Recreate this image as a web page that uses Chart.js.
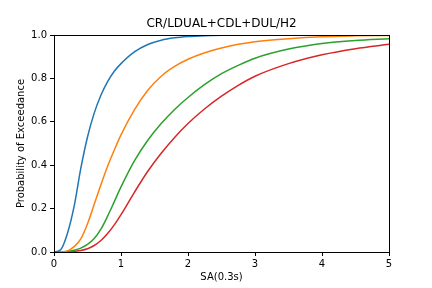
<!DOCTYPE html>
<html>
<head>
<meta charset="utf-8">
<script src="https://cdn.jsdelivr.net/npm/chart.js@4"></script>
<style>
  html, body { margin: 0; padding: 0; background: #fff; }
  #wrap { width: 432px; height: 288px; }
</style>
</head>
<body>
<div id="wrap"><canvas id="chart" width="432" height="288"></canvas></div>
<script>
// SA values (g) where the curves were read
const saValues = [0, 0.1, 0.2, 0.3, 0.4, 0.5, 0.6, 0.7, 0.8, 0.9, 1.0, 1.2, 1.4, 1.6, 1.8, 2.0, 2.25, 2.5, 2.75, 3.0, 3.5, 4.0, 4.5, 5.0]

// probability of exceedance, one array per curve
const curveBlue   = [0, 0.01, 0.085, 0.21, 0.385, 0.53, 0.64, 0.722, 0.785, 0.833, 0.868, 0.922, 0.956, 0.976, 0.987, 0.993, 0.997, 0.999, 1.0, 1.0, 1.0, 1.0, 1.0, 1.0]
const curveOrange = [0, 0, 0.005, 0.025, 0.06, 0.13, 0.22, 0.31, 0.395, 0.47, 0.54, 0.655, 0.745, 0.81, 0.855, 0.888, 0.918, 0.94, 0.957, 0.969, 0.983, 0.992, 0.996, 0.998]
const curveGreen  = [0, 0, 0.002, 0.008, 0.018, 0.035, 0.062, 0.105, 0.165, 0.232, 0.30, 0.42, 0.515, 0.592, 0.657, 0.712, 0.772, 0.822, 0.86, 0.893, 0.935, 0.961, 0.975, 0.983]
const curveRed    = [0, 0, 0, 0.003, 0.007, 0.015, 0.03, 0.053, 0.085, 0.125, 0.172, 0.275, 0.372, 0.455, 0.528, 0.592, 0.66, 0.718, 0.768, 0.81, 0.868, 0.909, 0.937, 0.957]

const xTicks = [0, 1, 2, 3, 4, 5]
const yTicks = [0, 0.2, 0.4, 0.6, 0.8, 1.0]

const COLORS = ['#1f77b4', '#ff7f0e', '#2ca02c', '#d62728']
const FONT = 'DejaVu Sans'

const toPoints = ys => saValues.map((x, i) => ({ x, y: ys[i] }))

// box around plot area (matplotlib spines)
const frame = {
  id: 'frame',
  afterDatasetsDraw(chart) {
    const { ctx, chartArea: a } = chart
    ctx.save()
    ctx.strokeStyle = '#000'
    ctx.lineWidth = 1
    ctx.strokeRect(Math.round(a.left) + 0.5, Math.round(a.top) + 0.5, Math.round(a.right - a.left), Math.round(a.bottom - a.top))
    ctx.restore()
  }
}

new Chart(document.getElementById('chart'), {
  type: 'line',
  data: {
    datasets: [curveBlue, curveOrange, curveGreen, curveRed].map((ys, i) => ({
      data: toPoints(ys),
      borderColor: COLORS[i],
      borderWidth: 1.5,
      pointRadius: 0,
      cubicInterpolationMode: 'monotone',
      fill: false,
    })),
  },
  options: {
    responsive: false,
    animation: false,
    layout: { padding: { left: 0, right: 43, top: 0, bottom: 0 } },
    plugins: {
      legend: { display: false },
      tooltip: { enabled: false },
      title: {
        display: true,
        text: 'CR/LDUAL+CDL+DUL/H2',
        color: '#000',
        fullSize: false,
        font: { family: FONT, size: 12, weight: 'normal' },
        padding: { top: 17, bottom: 3.6 },
      },
    },
    scales: {
      x: {
        type: 'linear',
        min: 0,
        max: 5,
        afterBuildTicks: s => { s.ticks = xTicks.map(v => ({ value: v })) },
        ticks: { color: '#000', padding: 2, font: { family: FONT, size: 10 }, callback: v => String(v) },
        grid: { drawOnChartArea: false, drawTicks: true, tickLength: 4, color: '#000' },
        border: { color: '#000', width: 1 },
        title: { display: true, text: 'SA(0.3s)', color: '#000', font: { family: FONT, size: 10 }, padding: { top: 0, bottom: 5 } },
        afterFit: s => { s.height = 36 },
      },
      y: {
        min: 0,
        max: 1,
        afterBuildTicks: s => { s.ticks = yTicks.map(v => ({ value: v })) },
        ticks: { color: '#000', padding: 3, font: { family: FONT, size: 10 }, callback: v => v.toFixed(1) },
        grid: { drawOnChartArea: false, drawTicks: true, tickLength: 4, color: '#000' },
        border: { color: '#000', width: 1 },
        title: { display: true, text: 'Probability of Exceedance', color: '#000', font: { family: FONT, size: 10 }, padding: { top: 15, bottom: 0 } },
        afterFit: s => { s.width = 54 },
      },
    },
  },
  plugins: [frame],
})
</script>
</body>
</html>
